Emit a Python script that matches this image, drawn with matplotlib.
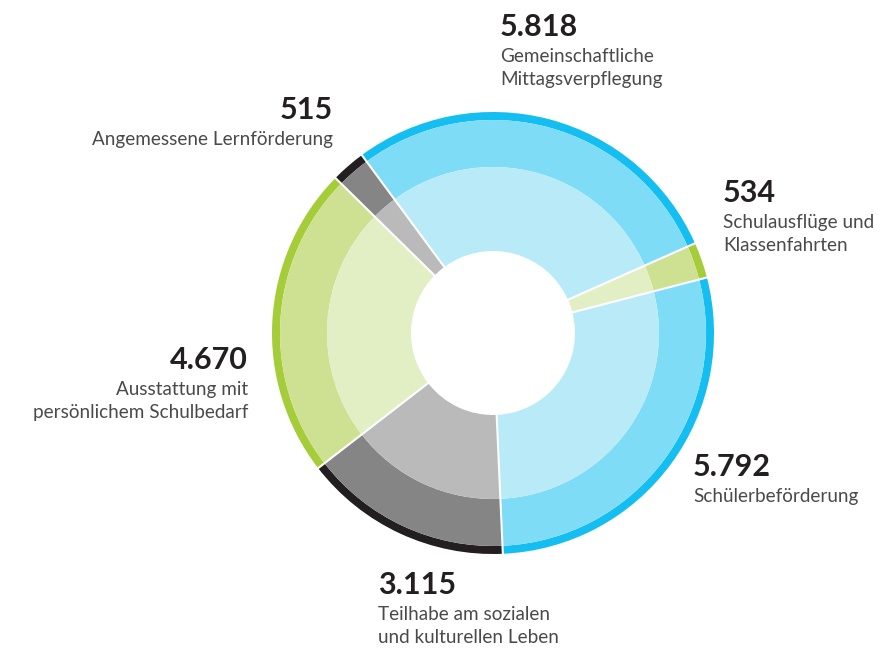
import matplotlib.pyplot as plt
import numpy as np

# ---- data ----
categories = ["Gemeinschaftliche\nMittagsverpflegung",
              "Schulausflüge und\nKlassenfahrten",
              "Schülerbeförderung",
              "Teilhabe am sozialen\nund kulturellen Leben",
              "Ausstattung mit\npersönlichem Schulbedarf",
              "Angemessene Lernförderung"]
values = [5818, 534, 5792, 3115, 4670, 515]
value_labels = ["5.818", "534", "5.792", "3.115", "4.670", "515"]

# ---- styles ----
BLUE = ("#14bef0", "#7edcf7", "#b8eaf8")
GREEN = ("#a5cd39", "#cee192", "#e2efc5")
GRAY = ("#231f20", "#858585", "#bababa")
palette = [BLUE, GREEN, BLUE, GRAY, GREEN, GRAY]

W, H = 896, 653
fig = plt.figure(figsize=(W / 100, H / 100), dpi=100)
ax = fig.add_axes([0, 0, 1, 1])

cx, cy = 493, H - 333
R_out, R_mid, R_in, R_hole = 221, 213, 166, 82
start = 126.4

rings = [(R_out, R_out - R_mid, 0), (R_mid, R_mid - R_in, 1), (R_in, R_in - R_hole, 2)]
for radius, width, k in rings:
    ax.pie(values, radius=radius, center=(cx, cy), startangle=start,
           counterclock=False, colors=[p[k] for p in palette],
           wedgeprops=dict(width=width, linewidth=0, antialiased=True))

# white separators between segments
angles = start - np.cumsum([0] + values[:-1]) / sum(values) * 360
for a in np.deg2rad(angles):
    ax.plot([cx + (R_hole - 2) * np.cos(a), cx + (R_out + 3) * np.cos(a)],
            [cy + (R_hole - 2) * np.sin(a), cy + (R_out + 3) * np.sin(a)],
            color="white", lw=1.5, solid_capstyle="butt", zorder=5)

ax.set_xlim(0, W)
ax.set_ylim(0, H)
ax.set_aspect("equal")
ax.axis("off")

# label layout: (x, y of number centre in px, alignment)
layout = [(500, 27, "left"), (723, 193, "left"), (693, 467, "left"),
          (378, 585, "left"), (248, 360, "right"), (333, 110, "right")]

FONT = ["Lato", "DejaVu Sans"]
for (x, y, ha), num, cat in zip(layout, value_labels, categories):
    ax.text(x, H - y, num, ha=ha, va="center", fontsize=22, fontweight="bold",
            color="#231f20", family=FONT)
    ax.text(x, H - (y + 21), cat, ha=ha, va="top", fontsize=13.6,
            fontweight="normal", color="#4a4a4a", family=FONT, linespacing=1.42)

fig.savefig("out.png", dpi=100)
